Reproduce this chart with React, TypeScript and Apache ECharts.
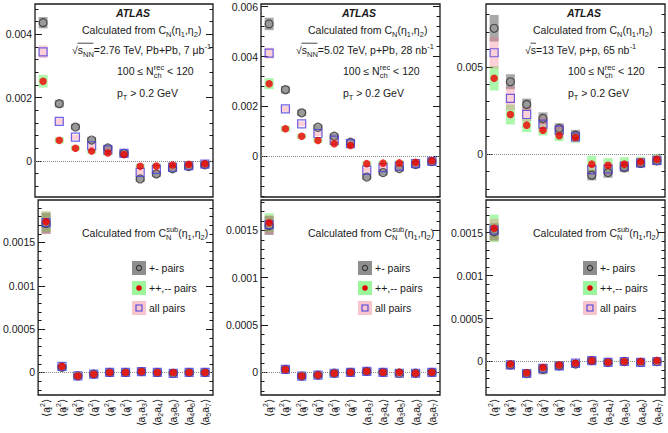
import { useEffect, useRef } from 'react';
import * as echarts from 'echarts';

const FONT = '"Liberation Sans", Arial, Helvetica, sans-serif';
const INK = '#1a1a1a';

// Moment products on the x axis
const categories = ['a_1^2', 'a_2^2', 'a_3^2', 'a_4^2', 'a_5^2', 'a_6^2', 'a_1a_3', 'a_2a_4', 'a_3a_5', 'a_4a_6', 'a_5a_7'];

// Pb+Pb 2.76 TeV, from C_N
const pbpbOpp = [0.00437, 0.00181, 0.00107, 0.00066, 0.00041, 0.00024, -0.00057, -0.00041, -0.00025, -0.00018, -0.00012];
const pbpbOppSys = [0.00018, 0.00012, 0.0001, 0.0001, 0.0001, 0.0001, 0.0001, 0.0001, 0.0001, 0.0001, 0.0001];
const pbpbSame = [0.00252, 0.00065, 0.0004, 0.00031, 0.00025, 0.0002, -0.00017, -0.00016, -0.00013, -0.00011, -0.00009];
const pbpbSameSys = [0.0002, 0.0001, 0.00008, 0.00008, 0.00008, 0.00008, 0.00008, 0.00008, 0.00008, 0.00008, 0.00008];
const pbpbAll = [0.00345, 0.00125, 0.00075, 0.00048, 0.00035, 0.00024, -0.00036, -0.00027, -0.0002, -0.00015, -0.0001];
const pbpbAllSys = [0.0002, 0.0001, 0.00008, 0.00008, 0.00008, 0.00008, 0.00008, 0.00008, 0.00008, 0.00008, 0.00008];

// p+Pb 5.02 TeV, from C_N
const ppbOpp = [0.00531, 0.00267, 0.00174, 0.00116, 0.0008, 0.00056, -0.00084, -0.00066, -0.0005, -0.00034, -0.00022];
const ppbOppSys = [0.00025, 0.00015, 0.00013, 0.00012, 0.00012, 0.00012, 0.00012, 0.00012, 0.00012, 0.00012, 0.00012];
const ppbSame = [0.00291, 0.0011, 0.0008, 0.00063, 0.0005, 0.00043, -0.0003, -0.00028, -0.00027, -0.00025, -0.00018];
const ppbSameSys = [0.00022, 0.00012, 0.0001, 0.0001, 0.0001, 0.0001, 0.0001, 0.0001, 0.0001, 0.0001, 0.0001];
const ppbAll = [0.00414, 0.0019, 0.0013, 0.00091, 0.00064, 0.0005, -0.00056, -0.00046, -0.0004, -0.0003, -0.00021];
const ppbAllSys = [0.00022, 0.00012, 0.0001, 0.0001, 0.0001, 0.0001, 0.0001, 0.0001, 0.0001, 0.0001, 0.0001];

// p+p 13 TeV, from C_N
const ppOpp = [0.0072, 0.00414, 0.00285, 0.00204, 0.00147, 0.00109, -0.0012, -0.00105, -0.00078, -0.00053, -0.00038];
const ppOppSys = [0.00076, 0.00043, 0.00033, 0.00035, 0.0003, 0.0003, 0.0003, 0.0003, 0.00025, 0.0002, 0.0002];
const ppSame = [0.00434, 0.00227, 0.00166, 0.00137, 0.00105, 0.00095, -0.00057, -0.00063, -0.00057, -0.00044, -0.00029];
const ppSameSys = [0.0007, 0.00057, 0.0004, 0.0003, 0.0003, 0.0003, 0.00048, 0.0004, 0.0004, 0.0003, 0.0003];
const ppAll = [0.0058, 0.00319, 0.00227, 0.00172, 0.00137, 0.00099, -0.00088, -0.00085, -0.00069, -0.0005, -0.00036];
const ppAllSys = [0.0009, 0.00067, 0.0004, 0.0004, 0.0003, 0.0003, 0.0003, 0.0003, 0.0003, 0.0003, 0.0003];

// Pb+Pb, from C_N^sub
const pbpbSubOpp = [0.00172, 0.00006, -0.00004, -0.00002, 0, 0, 0.00001, 0, -0.00001, 0, 0];
const pbpbSubOppSys = [0.00012, 0.00003, 0.00003, 0.00003, 0.00003, 0.00003, 0.00003, 0.00003, 0.00003, 0.00003, 0.00003];
const pbpbSubSame = [0.00174, 0.00007, -0.00004, -0.00002, 0, 0, 0.00001, 0, 0, 0, 0];
const pbpbSubSameSys = [0.00012, 0.00003, 0.00003, 0.00003, 0.00003, 0.00003, 0.00003, 0.00003, 0.00003, 0.00003, 0.00003];
const pbpbSubAll = [0.00173, 0.00007, -0.00004, -0.00002, 0, 0, 0.00001, 0, -0.00001, 0, 0];
const pbpbSubAllSys = [0.00013, 0.00003, 0.00003, 0.00003, 0.00003, 0.00003, 0.00003, 0.00003, 0.00003, 0.00003, 0.00003];

// p+Pb, from C_N^sub
const ppbSubOpp = [0.00155, 0.00003, -0.00004, -0.00003, -0.00001, 0, 0.00001, 0, -0.00001, -0.00001, 0];
const ppbSubOppSys = [0.0001, 0.00003, 0.00003, 0.00003, 0.00003, 0.00003, 0.00003, 0.00003, 0.00003, 0.00003, 0.00003];
const ppbSubSame = [0.00158, 0.00003, -0.00004, -0.00003, -0.00001, 0, 0.00001, 0, 0, -0.00001, 0];
const ppbSubSameSys = [0.0001, 0.00003, 0.00003, 0.00003, 0.00003, 0.00003, 0.00003, 0.00003, 0.00003, 0.00003, 0.00003];
const ppbSubAll = [0.00156, 0.00003, -0.00004, -0.00003, -0.00001, 0, 0.00001, 0, -0.00001, -0.00001, 0];
const ppbSubAllSys = [0.0001, 0.00003, 0.00003, 0.00003, 0.00003, 0.00003, 0.00003, 0.00003, 0.00003, 0.00003, 0.00003];

// p+p, from C_N^sub
const ppSubOpp = [0.00151, -0.00004, -0.00014, -0.00009, -0.00005, -0.00003, 0.00001, -0.00001, 0, -0.00001, 0];
const ppSubOppSys = [0.0001, 0.00005, 0.00004, 0.00006, 0.00005, 0.00004, 0.00004, 0.00003, 0.00003, 0.00003, 0.00003];
const ppSubSame = [0.00155, -0.00003, -0.00013, -0.00007, -0.00004, -0.00002, 0.00001, -0.00001, 0, 0, 0.00001];
const ppSubSameSys = [0.00016, 0.00004, 0.00003, 0.00003, 0.00003, 0.00003, 0.00003, 0.00003, 0.00003, 0.00003, 0.00003];
const ppSubAll = [0.00153, -0.00004, -0.00014, -0.00008, -0.00005, -0.00002, 0.00001, -0.00001, 0, -0.00001, 0];
const ppSubAllSys = [0.00013, 0.00004, 0.00003, 0.00003, 0.00003, 0.00003, 0.00003, 0.00003, 0.00003, 0.00003, 0.00003];

// Major tick labels per panel
const topLeftTicks = [0, 0.002, 0.004];
const topMidTicks = [0, 0.002, 0.004, 0.006];
const topRightTicks = [0, 0.005];
const subTicks = [0, 0.0005, 0.001, 0.0015];

const BOX_GRAY = 'rgba(110,110,110,0.6)';
const BOX_GREEN = 'rgba(40,235,40,0.38)';
const BOX_PINK = 'rgba(245,110,130,0.32)';

type Panel = {
  opp: number[]; oppSys: number[];
  same: number[]; sameSys: number[];
  all: number[]; allSys: number[];
  min: number; max: number; majors: number[]; minorStep: number;
  left: number; top: number; width: number; height: number; labels: boolean;
};

const COL_LEFT = [35, 261, 486];
const COL_W = [178, 179, 179];
const TOP_Y = 4, TOP_H = 193, BOT_Y = 200, BOT_H = 195;

const panels: Panel[] = [
  { opp: pbpbOpp, oppSys: pbpbOppSys, same: pbpbSame, sameSys: pbpbSameSys, all: pbpbAll, allSys: pbpbAllSys,
    min: -0.00114, max: 0.00496, majors: topLeftTicks, minorStep: 0.0004,
    left: COL_LEFT[0], top: TOP_Y, width: COL_W[0], height: TOP_H, labels: false },
  { opp: ppbOpp, oppSys: ppbOppSys, same: ppbSame, sameSys: ppbSameSys, all: ppbAll, allSys: ppbAllSys,
    min: -0.00164, max: 0.00611, majors: topMidTicks, minorStep: 0.0004,
    left: COL_LEFT[1], top: TOP_Y, width: COL_W[1], height: TOP_H, labels: false },
  { opp: ppOpp, oppSys: ppOppSys, same: ppSame, sameSys: ppSameSys, all: ppAll, allSys: ppAllSys,
    min: -0.00245, max: 0.00859, majors: topRightTicks, minorStep: 0.001,
    left: COL_LEFT[2], top: TOP_Y, width: COL_W[2], height: TOP_H, labels: false },
  { opp: pbpbSubOpp, oppSys: pbpbSubOppSys, same: pbpbSubSame, sameSys: pbpbSubSameSys, all: pbpbSubAll, allSys: pbpbSubAllSys,
    min: -0.00026, max: 0.00199, majors: subTicks, minorStep: 0.0001,
    left: COL_LEFT[0], top: BOT_Y, width: COL_W[0], height: BOT_H, labels: true },
  { opp: ppbSubOpp, oppSys: ppbSubOppSys, same: ppbSubSame, sameSys: ppbSubSameSys, all: ppbSubAll, allSys: ppbSubAllSys,
    min: -0.00024, max: 0.00182, majors: subTicks, minorStep: 0.0001,
    left: COL_LEFT[1], top: BOT_Y, width: COL_W[1], height: BOT_H, labels: true },
  { opp: ppSubOpp, oppSys: ppSubOppSys, same: ppSubSame, sameSys: ppSubSameSys, all: ppSubAll, allSys: ppSubAllSys,
    min: -0.00039, max: 0.00188, majors: subTicks, minorStep: 0.0001,
    left: COL_LEFT[2], top: BOT_Y, width: COL_W[2], height: BOT_H, labels: true },
];

const minorValues = (min: number, max: number, step: number) => {
  const out: number[] = [];
  for (let k = Math.ceil(min / step - 1e-9); k * step <= max + 1e-12; k++) out.push(+(k * step).toFixed(8));
  return out;
};

const fmtNum = (v: number) => String(+Number(v).toFixed(6));

// "a_1^2" -> <a₁²> with stacked sub/superscript, "a_1a_3" -> <a₁a₃>
const fmtMoment = (c: string) => {
  const sq = c.match(/^a_(\d)\^2$/);
  if (sq) return `{t|⟨a}{sz|${sq[1]}}{sp|2}{t|⟩}`;
  const pr = c.match(/^a_(\d)a_(\d)$/);
  return pr ? `{t|⟨a}{sb|${pr[1]}}{t|a}{sb|${pr[2]}}{t|⟩}` : c;
};

const axisRich = {
  t: { fontFamily: FONT, fontSize: 10.5, lineHeight: 14, color: INK },
  sb: { fontFamily: FONT, fontSize: 7, lineHeight: 7, verticalAlign: 'bottom', color: INK },
  sz: { fontFamily: FONT, fontSize: 7, lineHeight: 7, verticalAlign: 'bottom', color: INK, width: 0.1 },
  sp: { fontFamily: FONT, fontSize: 7, lineHeight: 7, verticalAlign: 'top', color: INK },
};

const textRich = {
  t: { fontFamily: FONT, fontSize: 10.5, lineHeight: 16, fill: INK },
  sb: { fontFamily: FONT, fontSize: 7.5, lineHeight: 8, verticalAlign: 'bottom', fill: INK },
  sbz: { fontFamily: FONT, fontSize: 7.5, lineHeight: 8, verticalAlign: 'bottom', fill: INK, width: 0.1 },
  sp: { fontFamily: FONT, fontSize: 7.5, lineHeight: 8, verticalAlign: 'top', fill: INK },
  b: { fontFamily: FONT, fontSize: 10.5, lineHeight: 16, fill: INK, fontWeight: 'bold', fontStyle: 'italic' },
};

const richText = (x: number, y: number, text: string, align = 'left') => ({
  type: 'text', x, y, silent: true,
  style: { text, rich: textRich, align, verticalAlign: 'middle', fill: INK, font: `10.5px ${FONT}` },
});

const energyLines = [
  '{t|√s}{sb|NN}{t|=2.76 TeV, Pb+Pb, 7 μb}{sp|-1}',
  '{t|√s}{sb|NN}{t|=5.02 TeV, p+Pb, 28 nb}{sp|-1}',
  '{t|√s=13 TeV, p+p, 65 nb}{sp|-1}',
];
const energyOffset = [37, 35, 39];
const overlineLen = [16, 16, 5.5];

const legendRows = [
  { label: '+- pairs', fill: '#8e8e8e', kind: 'opp' },
  { label: '++,-- pairs', fill: '#9cf79c', kind: 'same' },
  { label: 'all pairs', fill: '#f7c6cc', kind: 'all' },
];

const buildGraphics = () => {
  const els: any[] = [];
  COL_LEFT.forEach((L, c) => {
    els.push(richText(L + 98, 13, '{b|ATLAS}', 'center'));
    els.push(richText(L + 47, 30, '{t|Calculated from C}{sb|N}{t|(η}{sb|1}{t|,η}{sb|2}{t|)}'));
    const ex = L + energyOffset[c];
    els.push(richText(ex, 50, energyLines[c]));
    els.push({ type: 'line', silent: true, shape: { x1: ex + 5.5, y1: 43.2, x2: ex + 5.5 + overlineLen[c], y2: 43.2 }, style: { stroke: INK, lineWidth: 0.8 } });
    els.push(richText(L + 82, 71, '{t|100 ≤ N}{sbz|ch}{sp|rec}{t| < 120}'));
    els.push(richText(L + 82, 93, '{t|p}{sb|T}{t| > 0.2 GeV}'));

    els.push(richText(L + 47, 233, '{t|Calculated from C}{sbz|N}{sp|sub}{t|(η}{sb|1}{t|,η}{sb|2}{t|)}'));
    legendRows.forEach((row, r) => {
      const bx = L + 97, cy = 268 + r * 20;
      els.push({ type: 'rect', silent: true, shape: { x: bx, y: cy - 7, width: 14, height: 14 }, style: { fill: row.fill } });
      if (row.kind === 'opp') {
        els.push({ type: 'circle', silent: true, shape: { cx: bx + 7, cy, r: 2.6 }, style: { fill: 'none', stroke: '#333', lineWidth: 1.1 } });
      } else if (row.kind === 'same') {
        els.push({ type: 'circle', silent: true, shape: { cx: bx + 7, cy, r: 2.8 }, style: { fill: '#e00000' } });
      } else {
        els.push({ type: 'rect', silent: true, shape: { x: bx + 4, y: cy - 3, width: 6, height: 6 }, style: { fill: 'none', stroke: '#4b3fe0', lineWidth: 1.1 } });
      }
      els.push({ type: 'text', silent: true, x: bx + 17, y: cy, style: { text: row.label, fill: INK, font: `10.5px ${FONT}`, align: 'left', verticalAlign: 'middle' } });
    });
  });
  return els;
};

const buildOption = () => {
  const grid: any[] = [];
  const xAxis: any[] = [];
  const yAxis: any[] = [];
  const series: any[] = [];

  panels.forEach((p, gi) => {
    grid.push({ left: p.left, top: p.top, width: p.width, height: p.height, show: true, borderColor: INK, borderWidth: 1.3, backgroundColor: 'transparent' });
    xAxis.push({
      type: 'category', gridIndex: gi, data: categories, boundaryGap: true,
      axisLine: { show: false }, axisTick: { show: false }, splitLine: { show: false },
      axisLabel: { show: p.labels, interval: 0, rotate: 90, margin: 4, formatter: fmtMoment, rich: axisRich },
    });
    const minors = minorValues(p.min, p.max, p.minorStep);
    const base = { type: 'value', gridIndex: gi, min: p.min, max: p.max, axisLine: { show: false }, splitLine: { show: false } };
    yAxis.push({ ...base, position: 'left',
      axisTick: { show: true, inside: true, length: 7, customValues: p.majors, lineStyle: { color: INK, width: 1 } },
      axisLabel: { show: true, customValues: p.majors, formatter: fmtNum, fontFamily: FONT, fontSize: 10.5, color: INK, margin: 3 } });
    yAxis.push({ ...base, position: 'left',
      axisTick: { show: true, inside: true, length: 3.5, customValues: minors, lineStyle: { color: INK, width: 1 } },
      axisLabel: { show: false } });
    yAxis.push({ ...base, position: 'right',
      axisTick: { show: true, inside: true, length: 7, customValues: p.majors, lineStyle: { color: INK, width: 1 } },
      axisLabel: { show: false } });
    yAxis.push({ ...base, position: 'right',
      axisTick: { show: true, inside: true, length: 3.5, customValues: minors, lineStyle: { color: INK, width: 1 } },
      axisLabel: { show: false } });

    const yi = gi * 4;
    const box = (vals: number[], sys: number[], color: string) => ({
      type: 'custom', xAxisIndex: gi, yAxisIndex: yi, z: 1, silent: true,
      data: vals.map((v, k) => [k, v - sys[k], v + sys[k]]),
      encode: { x: 0, y: [1, 2] },
      renderItem: (_params: any, api: any) => {
        const a = api.coord([api.value(0), api.value(2)]);
        const b = api.coord([api.value(0), api.value(1)]);
        return { type: 'rect', shape: { x: a[0] - 4.5, y: a[1], width: 9, height: Math.max(b[1] - a[1], 1) }, style: { fill: color } };
      },
    });
    series.push(box(p.opp, p.oppSys, BOX_GRAY));
    series.push(box(p.same, p.sameSys, BOX_GREEN));
    series.push(box(p.all, p.allSys, BOX_PINK));

    const pts = (vals: number[]) => vals.map((v, k) => [k, v]);
    series.push({
      type: 'scatter', xAxisIndex: gi, yAxisIndex: yi, z: 3, silent: true,
      symbol: 'circle', symbolSize: 8, data: pts(p.opp),
      itemStyle: { color: 'rgba(120,120,120,0.35)', borderColor: '#333', borderWidth: 1.2 },
      markLine: { silent: true, symbol: 'none', label: { show: false }, lineStyle: { color: '#888', type: 'dotted', width: 1 }, data: [{ yAxis: 0 }] },
    });
    series.push({
      type: 'scatter', xAxisIndex: gi, yAxisIndex: yi, z: 4, silent: true,
      symbol: 'rect', symbolSize: 8, data: pts(p.all),
      itemStyle: { color: 'rgba(0,0,0,0)', borderColor: '#4b3fe0', borderWidth: 1.2 },
    });
    series.push({
      type: 'scatter', xAxisIndex: gi, yAxisIndex: yi, z: 5, silent: true,
      symbol: 'circle', symbolSize: 7.5, data: pts(p.same),
      itemStyle: { color: '#f00000' },
    });
  });

  return { animation: false, backgroundColor: '#fff', grid, xAxis, yAxis, series, graphic: buildGraphics() };
};

export default function App() {
  const ref = useRef<HTMLDivElement>(null);
  useEffect(() => {
    const chart = echarts.init(ref.current!, null, { renderer: 'svg' });
    chart.setOption(buildOption() as any);
    return () => chart.dispose();
  }, []);
  return <div ref={ref} style={{ position: 'fixed', left: 0, top: 0, width: 668, height: 433, background: '#fff' }} />;
}
